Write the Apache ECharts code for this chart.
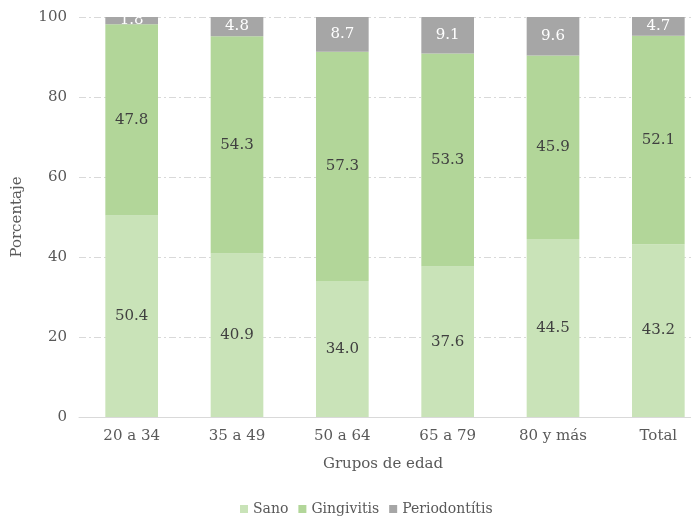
<!DOCTYPE html>
<html>
<head>
    <meta charset="utf-8">
    <style type="text/css">
        html,body { margin: 0px; padding: 0px; height: 100%; background: #fff; }
    </style>
    <script src="https://cdn.jsdelivr.net/npm/echarts@6/dist/echarts.min.js"></script>
</head>
<body>
    <div id="canvas1" style="width: 691px; height: 523px;"></div>
    <script type="text/javascript">
        // datos
        var grupos = ['20 a 34', '35 a 49', '50 a 64', '65 a 79', '80 y más', 'Total'];
        var sano = [50.4, 40.9, 34.0, 37.6, 44.5, 43.2];
        var gingivitis = [47.8, 54.3, 57.3, 53.3, 45.9, 52.1];
        var periodontitis = [1.8, 4.8, 8.7, 9.1, 9.6, 4.7];
        var yTicks = [0, 20, 40, 60, 80, 100];

        var fuente = 'DejaVu Serif';

        var etiqueta = function (color) {
            return {
                show: true, position: 'inside', color: color,
                fontFamily: fuente, fontSize: 15,
                formatter: function (p) { return p.value.toFixed(1); }
            };
        };

        var myChart1 = echarts.init(document.getElementById('canvas1'));

        var option1 = {
            animation: false,
            textStyle: { fontFamily: fuente },
            grid: { left: 79, top: 17, bottom: 106, width: 632, outerBoundsMode: 'none', containLabel: false },
            legend: {
                data: ['Sano', 'Gingivitis', 'Periodontítis'],
                top: 502, left: 240,
                itemWidth: 8, itemHeight: 8, itemGap: 10,
                icon: 'rect',
                padding: 0,
                textStyle: { color: '#595959', fontFamily: fuente, fontSize: 14 }
            },
            xAxis: {
                type: 'category', data: grupos,
                name: 'Grupos de edad', nameLocation: 'middle', nameGap: 40,
                nameTextStyle: { color: '#595959', fontFamily: fuente, fontSize: 15, padding: [0, 24, 0, 0] },
                axisLine: { lineStyle: { color: '#d9d9d9' } },
                axisTick: { show: false },
                axisLabel: { color: '#595959', fontFamily: fuente, fontSize: 15, margin: 12 }
            },
            yAxis: {
                type: 'value', min: yTicks[0], max: yTicks[yTicks.length - 1], interval: 20,
                name: 'Porcentaje', nameLocation: 'middle', nameGap: 54, nameRotate: 90,
                nameTextStyle: { color: '#595959', fontFamily: fuente, fontSize: 15 },
                axisLabel: { color: '#595959', fontFamily: fuente, fontSize: 15, margin: 12 },
                splitLine: { lineStyle: { color: '#d9d9d9', type: [7, 3, 2, 3] } }
            },
            series: [{
                name: 'Sano', type: 'bar', stack: 'a', barWidth: '50%',
                itemStyle: { color: '#c9e3b8' },
                label: etiqueta('#404040'),
                data: sano
            }, {
                name: 'Gingivitis', type: 'bar', stack: 'a',
                itemStyle: { color: '#b2d699' },
                label: etiqueta('#404040'),
                data: gingivitis
            }, {
                name: 'Periodontítis', type: 'bar', stack: 'a',
                itemStyle: { color: '#a6a6a6' },
                label: etiqueta('#ffffff'),
                data: periodontitis
            }]
        };

        myChart1.setOption(option1);
    </script>
</body>
</html>
